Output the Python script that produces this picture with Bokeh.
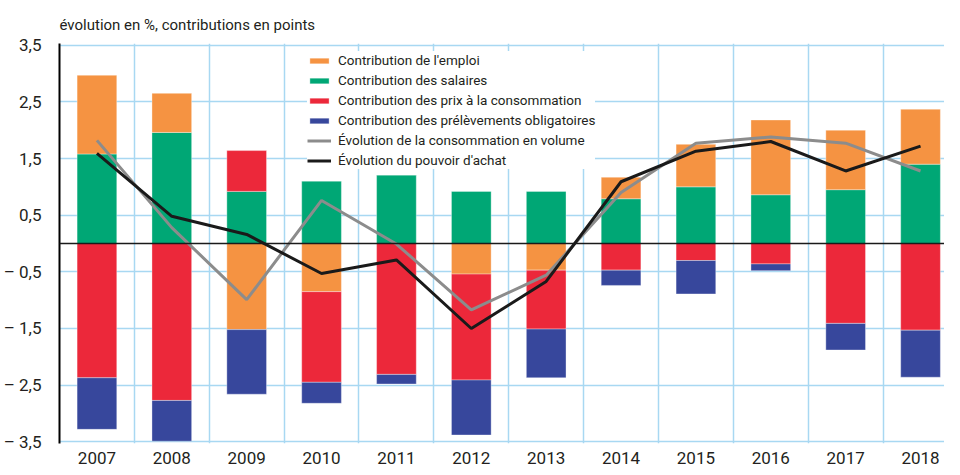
from bokeh.plotting import figure
from bokeh.models import ColumnDataSource, Range1d, FixedTicker, Span, Legend, LegendItem
from bokeh.embed import file_html
from bokeh.resources import INLINE

years = ["2007", "2008", "2009", "2010", "2011", "2012", "2013", "2014", "2015", "2016", "2017", "2018"]
emploi = [1.39, 0.69, -1.52, -0.85, 0.0, -0.54, -0.47, 0.38, 0.75, 1.32, 1.05, 0.97]
salaires = [1.58, 1.96, 0.92, 1.10, 1.21, 0.92, 0.92, 0.79, 1.00, 0.86, 0.95, 1.40]
prix = [-2.37, -2.77, 0.72, -1.60, -2.31, -1.87, -1.04, -0.47, -0.30, -0.36, -1.41, -1.53]
prelevements = [-0.91, -0.72, -1.14, -0.37, -0.17, -0.97, -0.86, -0.27, -0.59, -0.12, -0.47, -0.83]
consommation = [1.82, 0.28, -0.99, 0.76, -0.01, -1.17, -0.56, 0.90, 1.77, 1.88, 1.77, 1.28]
pouvoir_achat = [1.59, 0.48, 0.16, -0.53, -0.29, -1.50, -0.67, 1.09, 1.63, 1.80, 1.28, 1.72]
y_ticks = [-3.5, -2.5, -1.5, -0.5, 0.5, 1.5, 2.5, 3.5]
y_labels = ["– 3,5", "– 2,5", "– 1,5", "– 0,5", "0,5", "1,5", "2,5", "3,5"]

FONT = "Roboto"
TEXT = "#231f20"
GRID = "#a8d8f2"
C_EMPLOI = "#f59342"
C_SAL = "#00a775"
C_PRIX = "#ec283a"
C_PREL = "#37479c"
C_CONSO = "#8c8c8c"
C_PA = "#1a1a1a"

n = len(years)
xs = list(range(n))
pos_base = [0.0] * n
neg_base = [0.0] * n


def stack(vals):
    bottoms, tops = [], []
    for i, v in enumerate(vals):
        if v >= 0:
            b = pos_base[i]
            t = b + v
            pos_base[i] = t
        else:
            b = neg_base[i]
            t = b + v
            neg_base[i] = t
        bottoms.append(b)
        tops.append(t)
    return ColumnDataSource(dict(x=xs, bottom=bottoms, top=tops))


p = figure(width=944, height=467, x_range=Range1d(-0.5, 11.32), y_range=Range1d(-3.53, 3.53),
           output_backend="svg", toolbar_location=None,
           min_border_left=49, min_border_right=0, min_border_top=43, min_border_bottom=24)
p.outline_line_color = None
p.background_fill_color = "white"

p.title.text = "évolution en %, contributions en points"
p.title.text_font = FONT
p.title.text_font_size = "15px"
p.title.text_font_style = "normal"
p.title.text_color = TEXT
p.title.align = "left"
p.title.standoff = 20

# axes
p.yaxis.ticker = FixedTicker(ticks=y_ticks)
p.yaxis.major_label_overrides = {t: l for t, l in zip(y_ticks, y_labels)}
p.yaxis.axis_line_color = "black"
p.yaxis.axis_line_width = 2
p.yaxis.major_tick_line_color = None
p.yaxis.minor_tick_line_color = None
p.yaxis.major_label_text_font = FONT
p.yaxis.major_label_text_font_size = "17px"
p.yaxis.major_label_text_color = TEXT
p.yaxis.major_label_standoff = 12

p.xaxis.ticker = FixedTicker(ticks=xs)
p.xaxis.major_label_overrides = {i: y for i, y in zip(xs, years)}
p.xaxis.axis_line_color = None
p.xaxis.major_tick_line_color = None
p.xaxis.minor_tick_line_color = None
p.xaxis.major_label_text_font = FONT
p.xaxis.major_label_text_font_size = "17px"
p.xaxis.major_label_text_color = TEXT
p.xaxis.major_label_standoff = 2

p.xgrid.ticker = FixedTicker(ticks=[i - 0.5 for i in range(n + 1)])
p.xgrid.grid_line_color = GRID
p.xgrid.grid_line_width = 1.5
p.ygrid.grid_line_color = GRID
p.ygrid.grid_line_width = 1.5

W = 0.53
r_sal = p.vbar(x="x", bottom="bottom", top="top", width=W, source=stack(salaires),
               fill_color=C_SAL, line_color="white", line_alpha=0.35, line_width=1)
r_emp = p.vbar(x="x", bottom="bottom", top="top", width=W, source=stack(emploi),
               fill_color=C_EMPLOI, line_color="white", line_alpha=0.35, line_width=1)
r_prix = p.vbar(x="x", bottom="bottom", top="top", width=W, source=stack(prix),
                fill_color=C_PRIX, line_color="white", line_alpha=0.35, line_width=1)
r_prel = p.vbar(x="x", bottom="bottom", top="top", width=W, source=stack(prelevements),
                fill_color=C_PREL, line_color="white", line_alpha=0.35, line_width=1)

p.add_layout(Span(location=0, dimension="width", line_color="#1a1a1a", line_width=1.5))

r_conso = p.line(xs, consommation, line_color=C_CONSO, line_width=3)
r_pa = p.line(xs, pouvoir_achat, line_color=C_PA, line_width=3)

legend = Legend(items=[
    LegendItem(label="Contribution de l'emploi", renderers=[r_emp]),
    LegendItem(label="Contribution des salaires", renderers=[r_sal]),
    LegendItem(label="Contribution des prix à la consommation", renderers=[r_prix]),
    LegendItem(label="Contribution des prélèvements obligatoires", renderers=[r_prel]),
    LegendItem(label="Évolution de la consommation en volume", renderers=[r_conso]),
    LegendItem(label="Évolution du pouvoir d'achat", renderers=[r_pa]),
], location=(248, 274))
legend.label_text_font = FONT
legend.label_text_font_size = "13.5px"
legend.label_text_color = TEXT
legend.label_height = 18
legend.label_standoff = 7
legend.glyph_height = 7
legend.glyph_width = 24
legend.spacing = 2
legend.padding = 7
legend.margin = 0
legend.border_line_color = None
legend.background_fill_color = "white"
legend.background_fill_alpha = 1.0
p.add_layout(legend)

open("out.html", "w").write(file_html(p, INLINE))
